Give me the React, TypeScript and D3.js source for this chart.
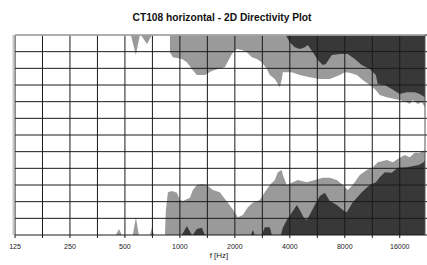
import React from "react";
import * as d3 from "d3";

// [frequency in Hz, angle in degrees]
type Pt = [number, number];

const title = "CT108 horizontal - 2D Directivity Plot";
const xLabel = "f [Hz]";
const octaveTicks = [125, 250, 500, 1000, 2000, 4000, 8000, 16000];
const angleLines = [-180, -150, -120, -90, -60, -30, 0, 30, 60, 90, 120, 150, 180];

// light grey level (-6 dB region), upper half: area between +180 and the curve
const topGray: Pt[] = [
  [882, 180], [882, 149], [916, 140], [1026, 137], [1092, 131], [1163, 119], [1239, 108],
  [1370, 108], [1496, 115], [1614, 119], [1763, 122], [1926, 146], [2051, 155], [2184, 153],
  [2326, 149], [2478, 140], [2639, 137], [2810, 131], [2993, 119], [3108, 108], [3311, 101],
  [3527, 86], [3617, 101], [3662, 113], [4102, 113], [4537, 108], [5146, 104], [5838, 101],
  [6622, 101], [7512, 108], [8000, 113], [8520, 112], [9306, 108], [10037, 99], [10963, 90],
  [11839, 81], [12436, 72], [13582, 68], [15023, 65], [16000, 63], [17475, 59], [18147, 56],
  [18848, 63], [20074, 56], [21112, 59], [22000, 50],
];
const topGrayBlobs: Pt[][] = [
  [[539, 180], [574, 144], [604, 180]],
  [[612, 180], [660, 164], [703, 180]],
];

// dark level (-12 dB region), upper half
const topDark: Pt[] = [
  [3803, 180], [4000, 167], [4260, 158], [4537, 155], [4832, 158], [5018, 162], [5345, 149],
  [5693, 135], [6063, 126], [6297, 128], [6791, 144], [7512, 146], [8308, 146], [9074, 137],
  [9911, 126], [10963, 119], [11839, 108], [12126, 92], [13244, 90], [14467, 83], [16000, 74],
  [17475, 77], [19330, 77], [20586, 74], [22000, 68],
];

// light grey level, lower half: area between the curve and -180
const bottomGray: Pt[] = [
  [828, -180], [838, -135], [860, -103], [904, -101], [963, -104], [1000, -117], [1039, -119],
  [1134, -113], [1178, -99], [1239, -90], [1320, -88], [1405, -90], [1516, -99], [1655, -103],
  [1697, -108], [1831, -122], [2000, -139], [2077, -148], [2212, -144], [2356, -130],
  [2509, -122], [2740, -117], [2918, -103], [3108, -90], [3311, -81], [3439, -67], [3617, -63],
  [3662, -72], [3852, -90], [4102, -86], [4424, -81], [4956, -85], [5482, -81], [6063, -77],
  [6622, -77], [7233, -81], [7801, -90], [8308, -99], [8848, -90], [9665, -72], [10556, -63],
  [11385, -58], [12126, -49], [13582, -45], [14649, -49], [16000, -41], [17040, -36],
  [18147, -40], [19330, -32], [20586, -32], [22000, -27],
];
const bottomGrayBlobs: Pt[][] = [
  [[446, -180], [464, -169], [481, -180]],
  [[553, -180], [574, -148], [596, -180]],
  [[685, -180], [703, -167], [721, -180]],
];

// dark level, lower half
const bottomDark: Pt[] = [
  [3571, -180], [3662, -167], [3852, -153], [4102, -140], [4369, -126], [4537, -135],
  [4772, -149], [4956, -153], [5212, -140], [5482, -126], [5838, -110], [6218, -104],
  [6622, -119], [7233, -126], [7801, -135], [8204, -139], [8848, -121], [9911, -103],
  [10963, -90], [11839, -85], [12436, -76], [13244, -67], [14467, -68], [15602, -59],
  [17475, -58], [20328, -54], [21651, -49], [22000, -45],
];
const bottomDarkBlobs: Pt[][] = [
  [[1026, -180], [1092, -164], [1163, -180]],
  [[1178, -180], [1239, -169], [1320, -167], [1370, -180]],
  [[2447, -180], [2509, -171], [2573, -180]],
  [[2810, -180], [2918, -166], [3108, -166], [3188, -180]],
];

const W = 427;
const H = 265;
const margin = { top: 35, right: 2, bottom: 30, left: 15 };
const LIGHT = "#9a9a9a";
const DARK = "#383838";
const FONT = "Arial, 'Liberation Sans', sans-serif";

export default function App() {
  const x = d3
    .scaleLog()
    .base(2)
    .domain([125, 22000])
    .range([margin.left, W - margin.right]);
  const y = d3
    .scaleLinear()
    .domain([-180, 180])
    .range([H - margin.bottom, margin.top]);

  const fromTop = d3
    .area<Pt>()
    .x((d) => x(d[0]))
    .y0(y(180))
    .y1((d) => y(d[1]));
  const fromBottom = d3
    .area<Pt>()
    .x((d) => x(d[0]))
    .y0(y(-180))
    .y1((d) => y(d[1]));

  const halfOctaves = octaveTicks.flatMap((f) => [f, f * Math.SQRT2]).filter((f) => f < 22000);
  const x0 = x(125);
  const x1 = x(22000);
  const yT = y(180);
  const yB = y(-180);

  return (
    <div style={{ position: "fixed", left: 0, top: 0 }}>
      <svg width={W} height={H} style={{ display: "block", background: "#fff" }}>
        <text
          x={222}
          y={20.5}
          textAnchor="middle"
          fontFamily={FONT}
          fontWeight="bold"
          fontSize={10.5}
          textLength={179}
          lengthAdjust="spacingAndGlyphs"
          fill="#111"
        >
          {title}
        </text>

        <rect x={x0} y={yT} width={x1 - x0} height={yB - yT} fill="#fff" />

        {/* contour levels */}
        <path d={fromTop(topGray) ?? ""} fill={LIGHT} />
        {topGrayBlobs.map((b, i) => (
          <path key={"tg" + i} d={fromTop(b) ?? ""} fill={LIGHT} />
        ))}
        <path d={fromTop(topDark) ?? ""} fill={DARK} />
        <path d={fromBottom(bottomGray) ?? ""} fill={LIGHT} />
        {bottomGrayBlobs.map((b, i) => (
          <path key={"bg" + i} d={fromBottom(b) ?? ""} fill={LIGHT} />
        ))}
        <path d={fromBottom(bottomDark) ?? ""} fill={DARK} />
        {bottomDarkBlobs.map((b, i) => (
          <path key={"bd" + i} d={fromBottom(b) ?? ""} fill={DARK} />
        ))}

        {/* grid */}
        {angleLines.map((a) => (
          <line key={"h" + a} x1={x0} x2={x1 + 2} y1={y(a)} y2={y(a)} stroke="#1a1a1a" strokeWidth={1} />
        ))}
        {halfOctaves.map((f) => (
          <line key={"v" + f} x1={x(f)} x2={x(f)} y1={yT} y2={yB + 3} stroke="#1a1a1a" strokeWidth={1} />
        ))}
        <rect x={x0 - 2.5} y={yT} width={2} height={yB - yT} fill="#c8c8c8" />
        <line x1={x0} x2={x1} y1={yT} y2={yT} stroke="#bbb" strokeWidth={1.5} />
        <line x1={x1} x2={x1} y1={yT} y2={yB} stroke="#555" strokeWidth={1} />

        {/* frequency axis */}
        {octaveTicks.map((f) => (
          <text
            key={"l" + f}
            x={x(f)}
            y={249}
            textAnchor="middle"
            fontFamily={FONT}
            fontSize={8}
            fill="#222"
            transform={`translate(${x(f)},0) scale(0.88,1) translate(${-x(f)},0)`}
          >
            {f}
          </text>
        ))}
        <text x={219} y={258} textAnchor="middle" fontFamily={FONT} fontSize={8} fill="#222">
          {xLabel}
        </text>
      </svg>
    </div>
  );
}
